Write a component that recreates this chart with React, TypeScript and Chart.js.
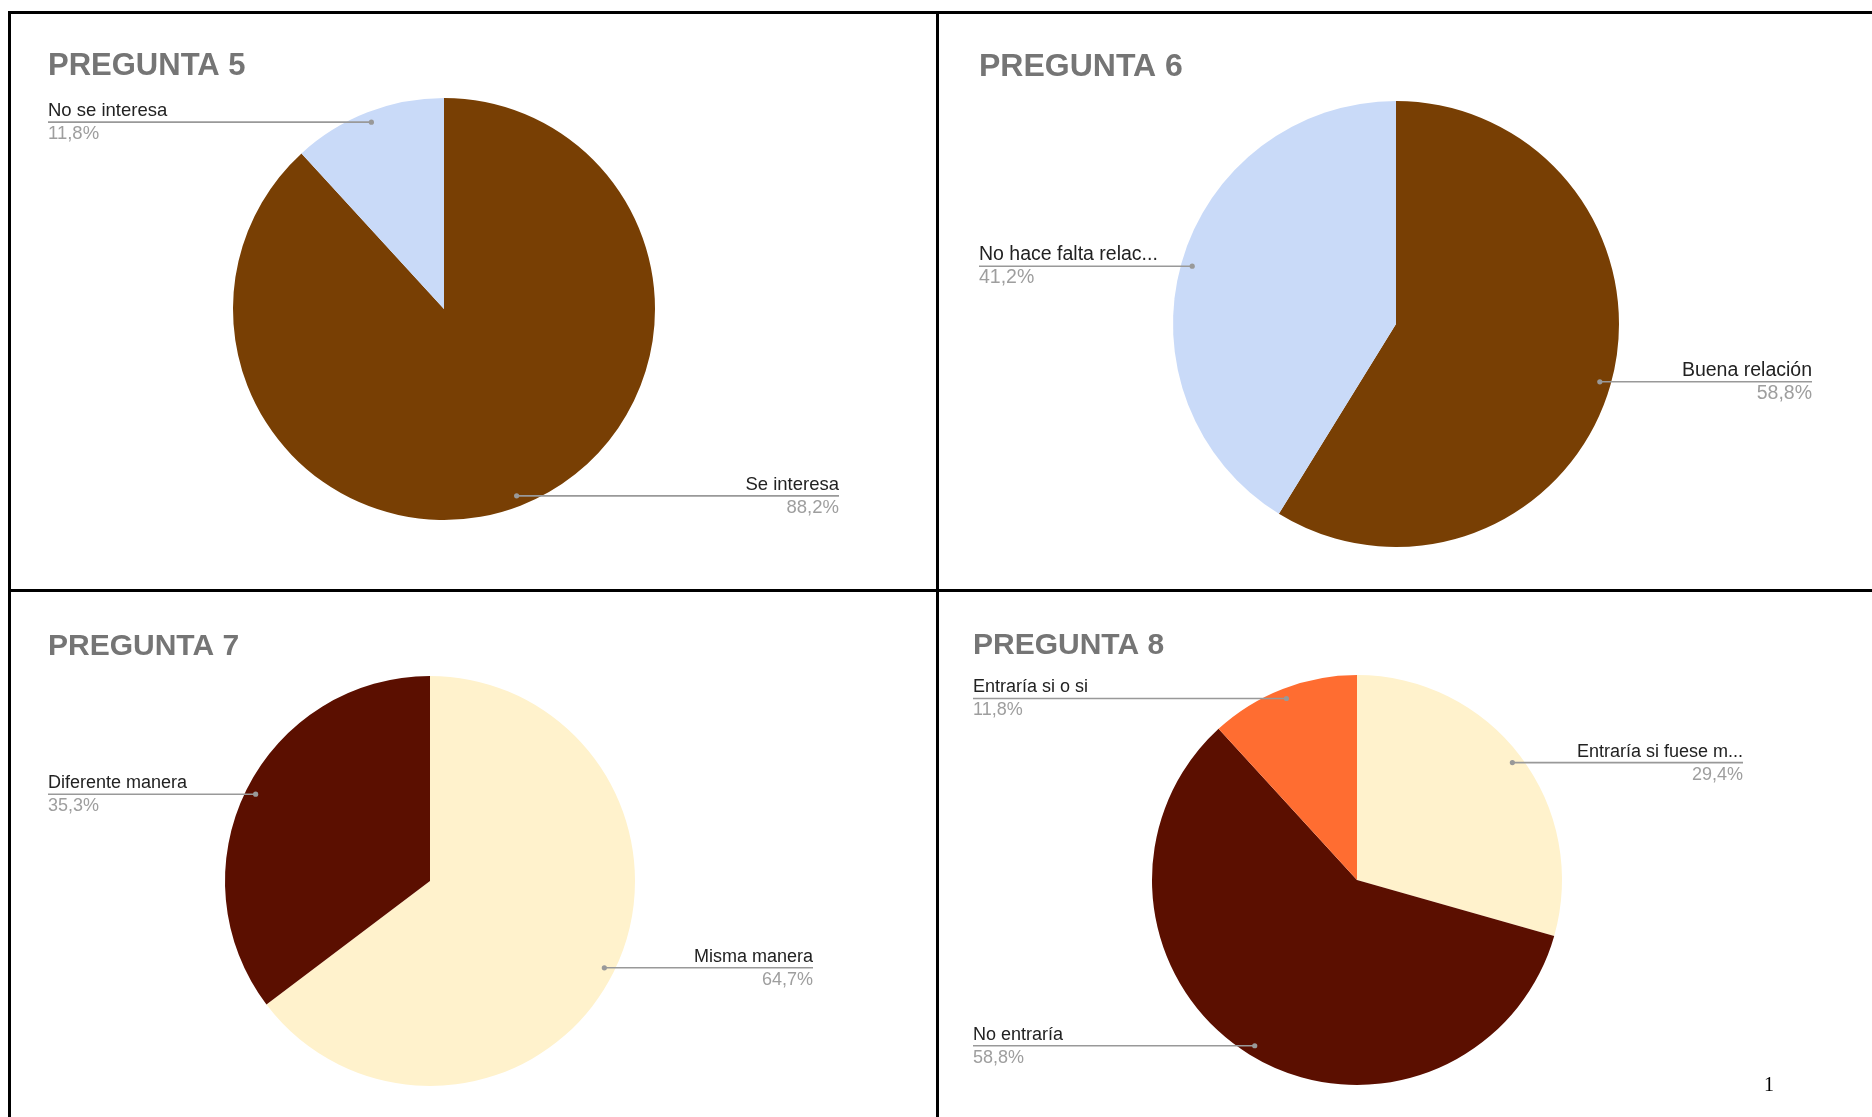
import React, { useEffect, useRef } from "react";
import { Chart, registerables } from "chart.js";

Chart.register(...registerables);

const PAGE_W = 1872;
const PAGE_H = 1117;

// ---- data ----
const q5Labels = ["Se interesa", "No se interesa"];
const q5Values = [88.2, 11.8];

const q6Labels = ["Buena relación", "No hace falta relac..."];
const q6Values = [58.8, 41.2];

const q7Labels = ["Misma manera", "Diferente manera"];
const q7Values = [64.7, 35.3];

const q8Labels = ["Entraría si fuese m...", "No entraría", "Entraría si o si"];
const q8Values = [29.4, 58.8, 11.8];

const titles = ["PREGUNTA 5", "PREGUNTA 6", "PREGUNTA 7", "PREGUNTA 8"];

// ---- colours ----
const q5Colors = ["#783f04", "#c9daf8"];
const q6Colors = ["#783f04", "#c9daf8"];
const q7Colors = ["#fff2cc", "#5b0f00"];
const q8Colors = ["#fff2cc", "#5b0f00", "#ff6d31"];

const pct = (v: number) => v.toFixed(1).replace(".", ",") + "%";

const calloutPlugin = {
  id: "callouts",
  afterDatasetsDraw(chart: any, _args: any, opts: any) {
    const ctx = chart.ctx as CanvasRenderingContext2D;
    const meta = chart.getDatasetMeta(0);
    const ds = chart.data.datasets[0];
    ctx.save();
    ctx.textBaseline = "alphabetic";
    ctx.textAlign = "left";
    ctx.font = `bold ${opts.titleSize}px 'Liberation Sans', Arial, sans-serif`;
    ctx.fillStyle = "#757575";
    ctx.fillText(opts.title, opts.titleX, opts.titleY);
    meta.data.forEach((arc: any, i: number) => {
      const { x, y, startAngle, endAngle, outerRadius } = arc.getProps(
        ["x", "y", "startAngle", "endAngle", "outerRadius"],
        true
      );
      const mid = (startAngle + endAngle) / 2;
      const px = x + Math.cos(mid) * outerRadius * 0.95;
      const py = y + Math.sin(mid) * outerRadius * 0.95;
      const left = px < x;
      const tx = left ? opts.leftX : opts.rightX;
      ctx.strokeStyle = "#999999";
      ctx.lineWidth = 1.6;
      ctx.beginPath();
      ctx.moveTo(tx, py);
      ctx.lineTo(px, py);
      ctx.stroke();
      ctx.fillStyle = "#999999";
      ctx.beginPath();
      ctx.arc(px, py, 2.6, 0, Math.PI * 2);
      ctx.fill();
      ctx.textAlign = left ? "left" : "right";
      ctx.font = `${opts.labelSize}px 'Liberation Sans', Arial, sans-serif`;
      ctx.fillStyle = "#222222";
      ctx.fillText(String(chart.data.labels[i]), tx, py - 6);
      ctx.fillStyle = "#9e9e9e";
      ctx.fillText(pct(ds.data[i]), tx, py + 17);
    });
    ctx.restore();
  },
};

type PieProps = {
  labels: string[];
  values: number[];
  colors: string[];
  cx: number;
  cy: number;
  r: number;
  callout: any;
};

function PieChart({ labels, values, colors, cx, cy, r, callout }: PieProps) {
  const ref = useRef<HTMLCanvasElement | null>(null);
  useEffect(() => {
    if (!ref.current) return;
    const chart = new Chart(ref.current, {
      type: "pie",
      data: {
        labels,
        datasets: [
          {
            data: values,
            backgroundColor: colors,
            borderWidth: 0,
            hoverOffset: 0,
          },
        ],
      },
      options: {
        responsive: false,
        animation: false,
        events: [],
        layout: {
          padding: {
            left: cx - r,
            top: cy - r,
            right: PAGE_W - cx - r,
            bottom: PAGE_H - cy - r,
          },
        },
        plugins: {
          legend: { display: false },
          tooltip: { enabled: false },
          // @ts-ignore
          callouts: callout,
        },
      } as any,
      plugins: [calloutPlugin as any],
    });
    return () => chart.destroy();
  }, []);
  return (
    <canvas
      ref={ref}
      width={PAGE_W}
      height={PAGE_H}
      style={{ position: "absolute", left: 0, top: 0, width: PAGE_W, height: PAGE_H }}
    />
  );
}

const line = (left: number, top: number, width: number, height: number) => (
  <div style={{ position: "absolute", left, top, width, height, background: "#000" }} />
);

export default function App() {
  return (
    <div
      style={{
        position: "absolute",
        left: 0,
        top: 0,
        width: PAGE_W,
        height: PAGE_H,
        background: "#fff",
        overflow: "hidden",
      }}
    >
      {line(8, 11, PAGE_W - 8, 3)}
      {line(8, 11, 3, PAGE_H - 11)}
      {line(936, 11, 3, PAGE_H - 11)}
      {line(8, 589, PAGE_W - 8, 3)}
      <PieChart
        labels={q5Labels}
        values={q5Values}
        colors={q5Colors}
        cx={444}
        cy={309}
        r={211}
        callout={{ title: titles[0], titleX: 48, titleY: 75, titleSize: 31, labelSize: 18.5, leftX: 48, rightX: 839 }}
      />
      <PieChart
        labels={q6Labels}
        values={q6Values}
        colors={q6Colors}
        cx={1396}
        cy={324}
        r={223}
        callout={{ title: titles[1], titleX: 979, titleY: 76, titleSize: 32, labelSize: 19.5, leftX: 979, rightX: 1812 }}
      />
      <PieChart
        labels={q7Labels}
        values={q7Values}
        colors={q7Colors}
        cx={430}
        cy={881}
        r={205}
        callout={{ title: titles[2], titleX: 48, titleY: 655, titleSize: 30, labelSize: 18, leftX: 48, rightX: 813 }}
      />
      <PieChart
        labels={q8Labels}
        values={q8Values}
        colors={q8Colors}
        cx={1357}
        cy={880}
        r={205}
        callout={{ title: titles[3], titleX: 973, titleY: 654, titleSize: 30, labelSize: 18, leftX: 973, rightX: 1743 }}
      />
      <div
        style={{
          position: "absolute",
          left: 1764,
          top: 1074,
          fontFamily: "'Liberation Serif', 'Times New Roman', serif",
          fontSize: 20,
          lineHeight: "20px",
          color: "#000",
        }}
      >
        1
      </div>
    </div>
  );
}
